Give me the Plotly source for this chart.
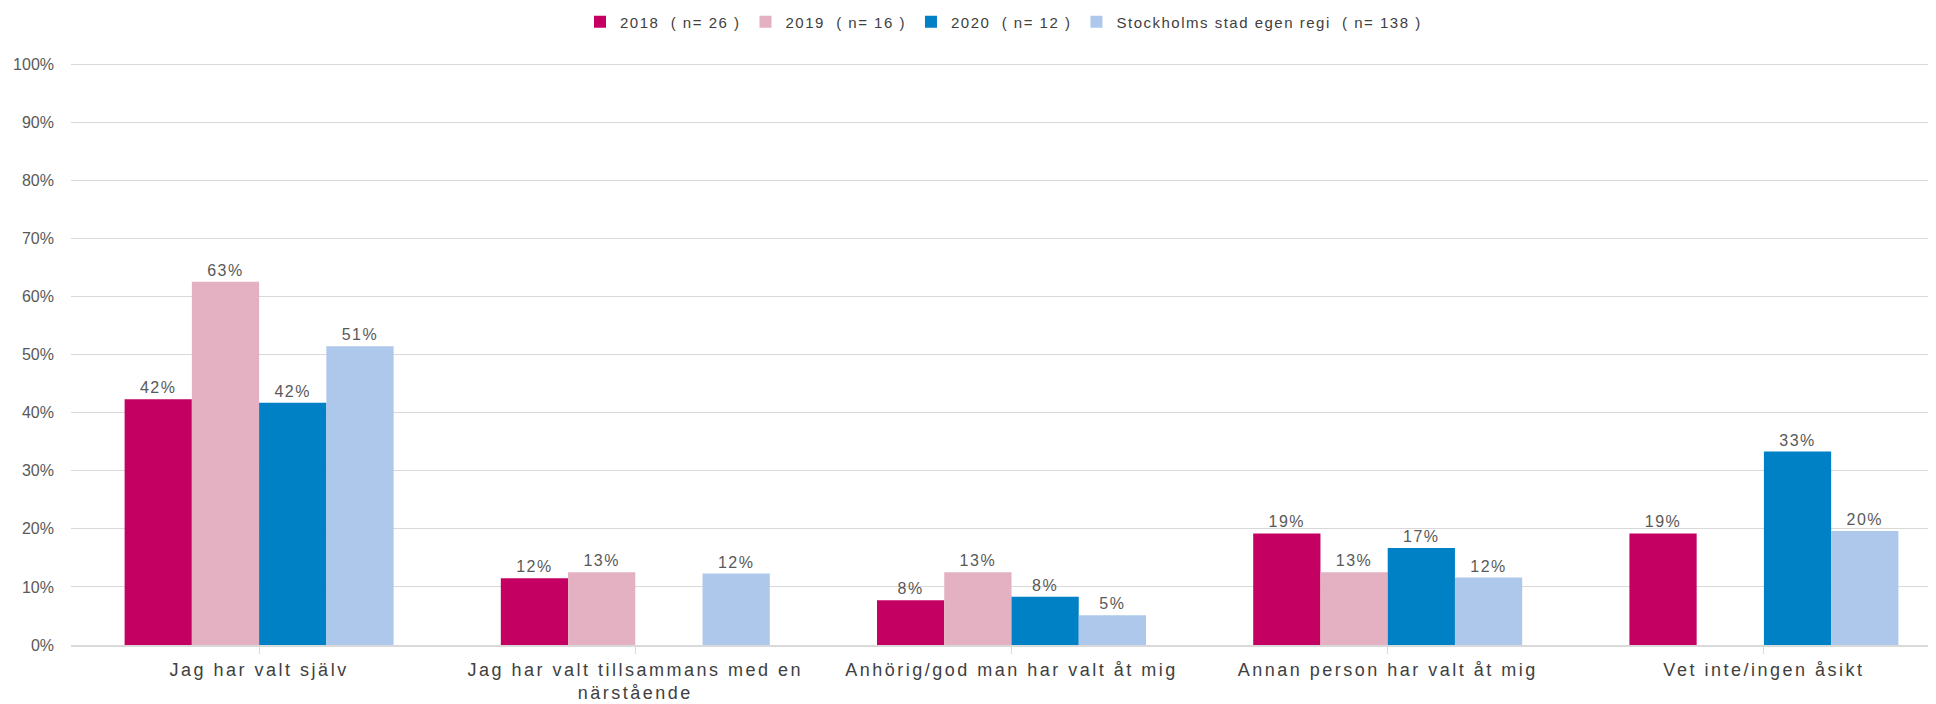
import plotly.graph_objects as go

categories = [
    "Jag har valt själv",
    "Jag har valt tillsammans med en<br>närstående",
    "Anhörig/god man har valt åt mig",
    "Annan person har valt åt mig",
    "Vet inte/ingen åsikt",
]
series_names = [
    "2018  ( n= 26 )",
    "2019  ( n= 16 )",
    "2020  ( n= 12 )",
    "Stockholms stad egen regi  ( n= 138 )",
]
v2018 = [42.3, 11.5, 7.7, 19.2, 19.2]
v2019 = [62.5, 12.5, 12.5, 12.5, 0.0]
v2020 = [41.7, 0.0, 8.3, 16.7, 33.3]
vsth = [51.4, 12.3, 5.1, 11.6, 19.6]
y_ticks = [0, 10, 20, 30, 40, 50, 60, 70, 80, 90, 100]
y_tick_labels = ["0%", "10%", "20%", "30%", "40%", "50%", "60%", "70%", "80%", "90%", "100%"]

colors = ["#C40062", "#E4B1C2", "#0080C5", "#ADC8EA"]
FONT = "Liberation Sans, Arial, sans-serif"


def spaced(s, px):
    return '<span style="letter-spacing:%spx">%s</span>' % (px, s)


def label(v):
    if v <= 0:
        return ""
    return spaced("%d%%" % int(v + 0.5), 1.5)


fig = go.Figure()
for name, vals, col in zip(series_names, [v2018, v2019, v2020, vsth], colors):
    fig.add_trace(go.Bar(
        x=list(range(len(categories))),
        y=vals,
        name=spaced(name, 1.5),
        marker=dict(color=col, line=dict(width=0)),
        text=[label(v) for v in vals],
        textposition="outside",
        textfont=dict(family=FONT, size=16, color="#595959"),
        cliponaxis=False,
        hoverinfo="skip",
    ))

# page body has an 8px default margin, so the figure is sized to fill the rest
fig.update_layout(
    width=1928,
    height=696,
    barmode="group",
    bargap=0.285,
    bargroupgap=0,
    plot_bgcolor="white",
    paper_bgcolor="white",
    font=dict(family=FONT, color="#404040"),
    margin=dict(l=63, r=0, t=54, b=59, autoexpand=False),
    showlegend=True,
    legend=dict(
        orientation="h",
        x=0.5, xanchor="center",
        y=1.0686, yanchor="middle",
        font=dict(family=FONT, size=15, color="#404040"),
        traceorder="normal",
        itemclick=False,
    ),
)
fig.update_xaxes(
    range=[-0.5, 4.5 - 16 / 376],
    tickmode="array",
    tickvals=list(range(len(categories))),
    ticktext=[spaced(c, 2.5) for c in categories],
    tickson="boundaries",
    ticks="outside",
    ticklen=7,
    tickcolor="#d9d9d9",
    showline=True,
    linecolor="#d9d9d9",
    linewidth=2,
    showgrid=False,
    automargin=False,
    tickfont=dict(family=FONT, size=18, color="#404040"),
    ticklabelstandoff=0,
)
fig.update_yaxes(
    range=[0, 100.344],
    tickmode="array",
    tickvals=y_ticks,
    ticktext=y_tick_labels,
    showgrid=True,
    gridcolor="#d9d9d9",
    gridwidth=1,
    zeroline=False,
    showline=False,
    automargin=False,
    tickfont=dict(family=FONT, size=16, color="#595959"),
    ticklabelstandoff=16,
)

fig.write_html("out.html")
